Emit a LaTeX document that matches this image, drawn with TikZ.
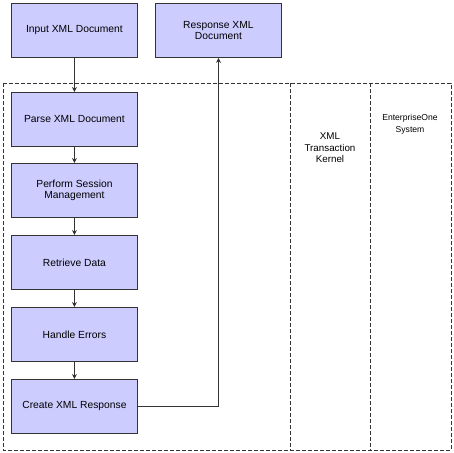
\documentclass[tikz,border=0pt]{standalone}
\usepackage{fontspec}
\setmainfont{Liberation Sans}
\usetikzlibrary{arrows.meta}
\definecolor{boxfill}{HTML}{CCCCFF}
\definecolor{boxline}{HTML}{333333}
\begin{document}
\begin{tikzpicture}[x=1pt,y=-1pt,
  stepbox/.style={draw=boxline,line width=0.9pt,fill=boxfill,minimum width=126pt,minimum height=54pt,inner sep=0pt,align=center,font=\fontsize{10.3}{11.3}\selectfont,anchor=north west},
  flow/.style={draw=boxline,line width=0.9pt,-{Stealth[length=5pt,width=5pt]}},
  lane/.style={draw=boxline,line width=0.9pt,dash pattern=on 4pt off 2pt},
  lanetext/.style={align=center,font=\fontsize{9.8}{11.5}\selectfont},
  smalltext/.style={align=center,font=\fontsize{8.6}{12}\selectfont}]
\useasboundingbox (0,0) rectangle (453,453);
\draw[lane] (3,83) rectangle (451,450);
\draw[lane] (290,83) -- (290,450);
\draw[lane] (370,83) -- (370,450);
\node[stepbox] (input) at (11,3) {Input XML Document};
\node[stepbox] (resp) at (155,3) {Response XML\\Document};
\node[stepbox] (parse) at (11,92) {Parse XML Document};
\node[stepbox] (sess) at (11,163) {Perform Session\\Management};
\node[stepbox] (retr) at (11,235) {Retrieve Data};
\node[stepbox] (hand) at (11,307) {Handle Errors};
\node[stepbox] (create) at (11,379) {Create XML Response};
\node[lanetext] (kern) at (330,148) {XML\\Transaction\\Kernel};
\node[smalltext] (e1) at (410,124) {EnterpriseOne\\System};
\draw[flow] (input) -- (parse);
\draw[flow] (parse) -- (sess);
\draw[flow] (sess) -- (retr);
\draw[flow] (retr) -- (hand);
\draw[flow] (hand) -- (create);
\draw[flow] (create.east) -| (resp.south);
\end{tikzpicture}
\end{document}
